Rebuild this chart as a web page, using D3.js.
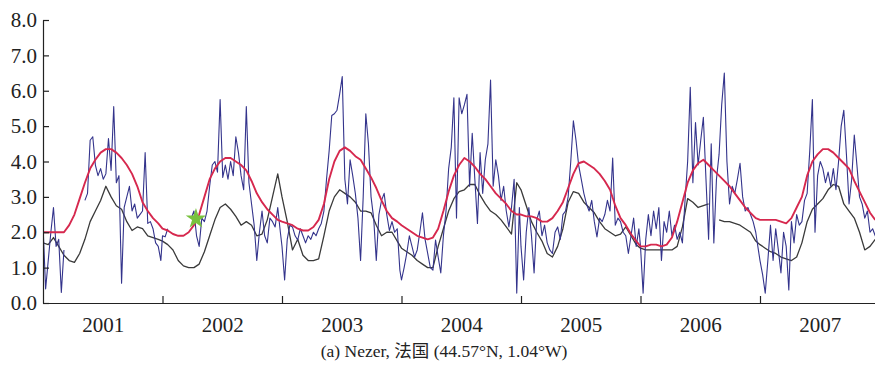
<!DOCTYPE html>
<html>
<head>
<meta charset="utf-8">
<script src="https://cdn.jsdelivr.net/npm/d3@7"></script>
<style>
  body { margin: 0; background: #fff; }
  svg { display: block; }
</style>
</head>
<body>
<svg id="chart" width="875" height="371"></svg>
<script>
// LAI time series for Nezer, France, 2001-2007
const years = [2001, 2002, 2003, 2004, 2005, 2006, 2007];
const yearLabels = ["2001", "2002", "2003", "2004", "2005", "2006", "2007"];
const yTicks = [0, 1, 2, 3, 4, 5, 6, 7, 8];

// 8-day retrievals (46 per year), null = missing
const blueLAI = [
  // 2001
  2.2,0.4,1.2,2.0,2.7,1.6,1.8,0.3,1.5,null,null,null,null,null,null,null,
  2.9,3.1,4.6,4.7,3.9,3.6,3.8,3.5,3.65,4.65,3.75,5.55,3.4,3.6,0.56,2.7,3.0,3.3,2.6,2.8,
  2.4,2.5,2.6,4.25,2.25,2.3,2.1,1.7,1.6,1.2,
  // 2002
  1.9,1.87,2.1,null,null,null,null,null,null,null,null,2.4,2.6,1.9,1.6,
  2.4,2.3,2.6,3.3,3.9,4.0,3.7,5.75,3.55,3.9,3.5,4.0,3.6,4.7,4.25,3.6,3.2,5.55,3.4,2.8,
  2.2,1.2,2.0,2.6,1.9,1.7,2.4,2.3,2.15,2.7,2.0,
  // 2003
  1.6,0.65,1.8,2.2,2.15,1.9,1.78,2.1,1.9,1.7,1.9,1.8,2.0,1.9,2.1,2.25,2.6,3.5,4.3,5.3,
  5.35,5.45,5.9,6.4,3.5,2.8,4.05,3.6,3.1,2.4,1.2,3.0,5.35,4.5,3.0,2.4,1.2,2.5,2.9,3.1,
  2.5,2.05,2.3,2.0,2.1,0.93,
  // 2004
  0.65,1.0,1.4,1.9,1.6,1.3,1.5,2.0,2.55,1.8,1.4,1.0,0.93,1.78,1.3,0.85,1.9,2.6,3.8,4.4,
  5.8,2.4,5.8,5.35,5.6,5.9,3.3,4.8,3.5,2.25,4.25,3.1,4.05,4.5,6.3,3.3,4.05,3.6,2.9,3.3,
  2.6,2.15,2.7,3.5,0.28,2.7,
  // 2005
  1.6,0.65,2.0,2.7,1.9,0.85,2.35,2.6,1.9,2.2,1.7,1.5,1.4,2.0,2.15,1.8,2.5,2.6,3.0,4.0,
  5.15,4.6,3.9,3.5,3.1,2.8,2.6,2.9,2.3,1.87,2.4,2.3,2.5,2.9,2.6,4.1,2.2,2.4,2.3,2.0,
  1.9,1.4,1.9,2.4,1.6,2.1,
  // 2006
  1.6,0.28,1.8,2.5,1.9,2.6,2.1,2.7,1.2,2.3,2.0,2.6,1.9,2.2,1.8,2.0,1.7,2.9,4.0,6.1,
  3.4,5.1,3.9,4.6,5.25,3.5,1.8,4.5,1.7,3.5,4.2,5.6,6.5,4.0,2.8,3.3,3.1,3.5,3.95,3.0,
  2.6,2.7,2.5,2.3,2.0,1.5,
  // 2007
  1.2,0.8,0.28,1.2,2.2,1.2,2.1,1.5,0.85,2.0,1.6,0.37,2.3,1.7,2.5,2.2,2.3,2.9,3.1,4.3,
  5.75,2.0,3.6,4.0,3.8,3.4,3.7,3.3,3.8,3.2,4.0,5.0,5.45,4.2,2.8,3.5,4.75,3.9,3.0,2.8,
  2.4,2.6,2.0,2.1,1.9,1.9
];

// 16-day smoothed / reconstructed LAI (23 per year)
const redLAI = [
  2.0,2.0,2.0,2.0,2.0,2.2,2.5,2.95,3.4,3.8,4.05,4.25,4.35,4.35,4.25,4.1,3.9,3.65,3.3,2.85,2.6,2.4,2.25,
  2.1,2.05,1.95,1.9,1.9,2.0,2.2,2.5,3.0,3.5,3.8,4.0,4.1,4.1,4.0,3.9,3.75,3.45,3.1,2.85,2.65,2.5,2.35,
  2.3,2.25,2.2,2.1,2.05,2.05,2.15,2.35,2.8,3.5,4.0,4.3,4.4,4.3,4.15,4.05,3.8,3.55,3.25,2.9,2.6,2.4,2.3,
  2.2,2.1,2.0,1.9,1.85,1.8,1.85,2.1,2.6,3.15,3.6,3.9,4.1,4.0,3.85,3.65,3.5,3.3,3.1,2.95,2.8,2.6,2.5,
  2.5,2.45,2.45,2.4,2.3,2.3,2.4,2.6,2.85,3.25,3.65,3.95,4.0,3.9,3.8,3.65,3.45,3.2,2.75,2.4,2.2,1.95,1.75,
  1.6,1.6,1.65,1.65,1.6,1.65,1.85,2.3,2.85,3.4,3.75,3.95,4.05,3.9,3.75,3.6,3.45,3.3,3.1,2.9,2.7,2.55,2.4,
  2.35,2.35,2.35,2.35,2.3,2.25,2.4,2.7,3.0,3.6,4.0,4.2,4.35,4.35,4.25,4.1,3.95,3.8,3.45,3.15,2.85,2.55,2.35
];

const blackLAI = [
  1.7,1.65,1.85,1.6,1.35,1.2,1.15,1.4,1.8,2.3,2.6,2.9,3.3,3.0,2.75,2.65,2.3,2.05,2.15,2.1,1.9,1.85,1.8,
  1.75,1.65,1.5,1.2,1.05,1.0,1.0,1.1,1.45,1.9,2.35,2.7,2.8,2.65,2.45,2.2,2.3,2.2,1.9,1.95,2.35,3.0,3.65,
  3.0,2.3,1.5,1.8,1.35,1.2,1.2,1.25,1.9,2.6,3.0,3.2,3.1,3.0,2.85,2.6,2.6,2.55,2.2,1.9,2.0,2.0,1.75,
  1.55,1.45,1.35,1.2,1.1,1.0,1.0,1.6,2.1,2.6,2.95,3.15,3.2,3.35,3.35,3.05,2.8,2.6,2.5,2.35,2.15,1.95,3.4,
  3.2,2.75,2.3,2.0,1.75,1.4,1.3,1.6,2.1,2.85,3.15,3.1,2.85,2.7,2.55,2.3,2.1,2.0,1.9,1.95,2.15,1.9,1.65,
  1.55,1.5,1.5,1.5,1.5,1.5,1.5,1.6,2.15,2.95,2.85,2.7,2.75,2.8,null,2.35,2.3,2.3,2.25,2.2,2.1,2.0,1.75,
  1.65,1.55,1.45,1.4,1.3,1.25,1.2,1.3,1.7,2.3,2.65,2.8,2.95,3.2,3.35,3.3,2.8,2.6,2.4,2.0,1.5,1.6,1.8
];

// single field measurement
const fieldPoint = { t: 2002.28, v: 2.38 };

const width = 875, height = 371;
const svg = d3.select("#chart");

const x = d3.scaleLinear().domain([2001, 2008]).range([43, 879.5]);
const y = d3.scaleLinear().domain([0, 8]).range([303, 20]);

// decimal-year time stamp for the k-th sample of a series with n samples/year
const stamp = (i, perYear, stepDays) =>
  years[0] + Math.floor(i / perYear) + (i % perYear) * stepDays / 365;

const blueData = blueLAI.map((v, i) => ({ t: stamp(i, 46, 8), v }));
const redData = redLAI.map((v, i) => ({ t: stamp(i, 23, 16), v }));
const blackData = blackLAI.map((v, i) => ({ t: stamp(i, 23, 16), v }));

svg.append("defs").append("clipPath").attr("id", "plot-clip")
  .append("rect").attr("x", 43).attr("y", 0).attr("width", width - 43).attr("height", 303);

const line = d3.line()
  .defined(d => d.v !== null)
  .x(d => x(d.t))
  .y(d => y(d.v));

const plot = svg.append("g").attr("clip-path", "url(#plot-clip)");

plot.append("path").datum(blackData)
  .attr("fill", "none").attr("stroke", "#3a3a3a").attr("stroke-width", 1.3)
  .attr("stroke-linejoin", "round").attr("d", line);

plot.append("path").datum(blueData)
  .attr("fill", "none").attr("stroke", "#34348c").attr("stroke-width", 1.1)
  .attr("stroke-linejoin", "round").attr("d", line);

plot.append("path").datum(redData)
  .attr("fill", "none").attr("stroke", "#d6284e").attr("stroke-width", 1.9)
  .attr("stroke-linejoin", "round").attr("d", line);

plot.append("path")
  .attr("transform", `translate(${x(fieldPoint.t)},${y(fieldPoint.v)})`)
  .attr("d", d3.symbol().type(d3.symbolStar).size(130)())
  .attr("fill", "#79c23f");

const fontFamily = "'Liberation Serif', 'Times New Roman', serif";

// y axis with inward ticks
const yAxis = svg.append("g").attr("transform", "translate(43,0)")
  .call(d3.axisLeft(y).tickValues(yTicks).tickFormat(d3.format(".1f"))
    .tickSizeInner(-6).tickSizeOuter(0).tickPadding(6));

// x axis: year boundaries as inward ticks
const xAxis = svg.append("g").attr("transform", "translate(0,303)")
  .call(d3.axisBottom(x).tickValues(years.slice(1)).tickFormat("")
    .tickSizeInner(-7).tickSizeOuter(0));

// year labels centred in each year
const xLabels = svg.append("g").attr("transform", "translate(0,303)")
  .call(d3.axisBottom(x).tickValues(years.map(d => d + 0.5))
    .tickFormat((d, i) => yearLabels[i]).tickSize(0).tickPadding(14));
xLabels.select(".domain").remove();

[yAxis, xAxis].forEach(g => {
  g.select(".domain").attr("stroke", "#222").attr("stroke-width", 1.2);
  g.selectAll(".tick line").attr("stroke", "#222").attr("stroke-width", 1.2);
});
[yAxis, xLabels].forEach(g => {
  g.selectAll("text").attr("font-family", fontFamily).attr("font-size", 21).attr("fill", "#222");
});

svg.append("text")
  .attr("x", 444).attr("y", 357)
  .attr("text-anchor", "middle")
  .attr("font-family", "'Liberation Serif', 'Noto Sans CJK SC', serif")
  .attr("font-size", 17.5).attr("fill", "#222")
  .text("(a) Nezer, 法国 (44.57°N, 1.04°W)");
</script>
</body>
</html>
